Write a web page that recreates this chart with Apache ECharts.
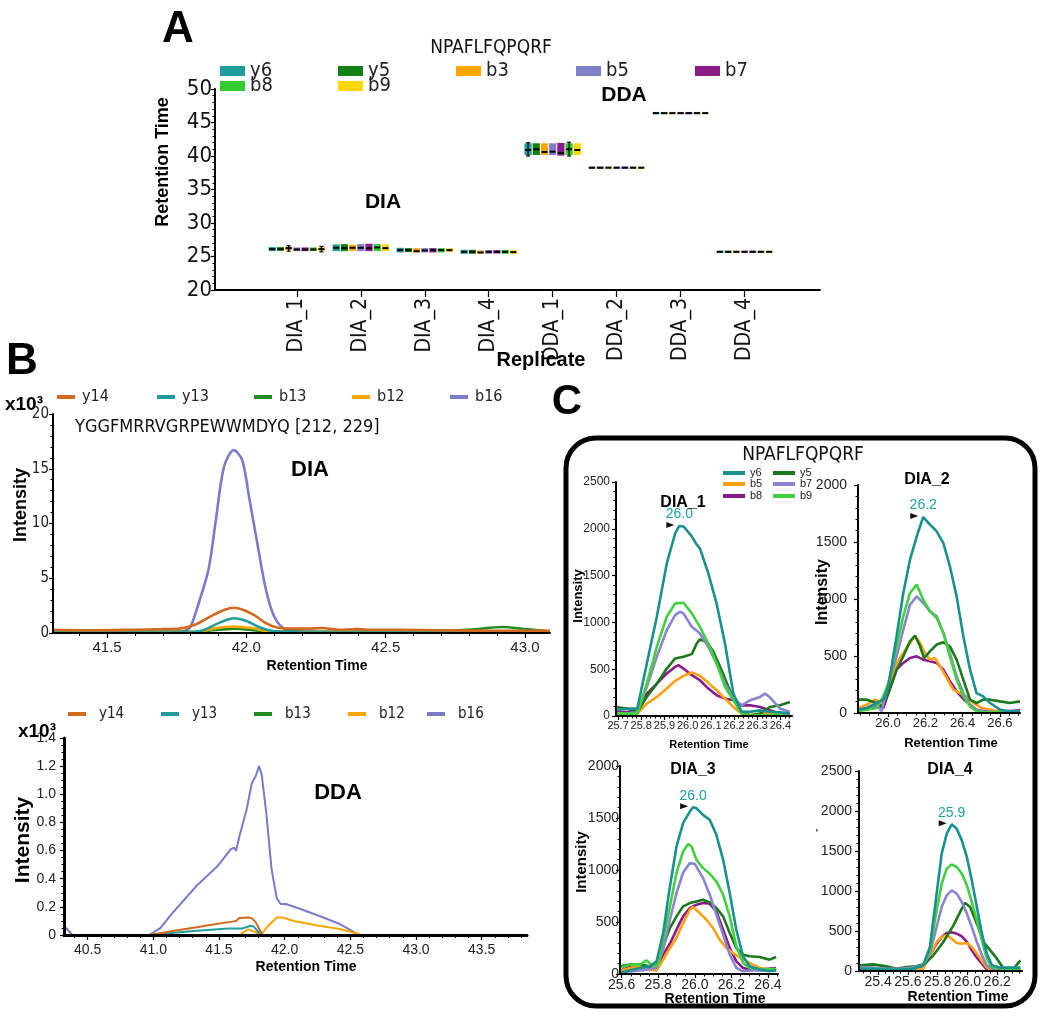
<!DOCTYPE html>
<html><head><meta charset="utf-8">
<script src="https://cdn.jsdelivr.net/npm/echarts@6/dist/echarts.min.js"></script>
<style>html,body{margin:0;padding:0;background:#fff}#c{width:1052px;height:1027px}</style>
</head><body><div id="c"></div>
<script>
// ================= DATA =================
// Panel A: retention time per replicate, per fragment  [low, q1, median, q3, high]
const replicates = ['DIA_1','DIA_2','DIA_3','DIA_4','DDA_1','DDA_2','DDA_3','DDA_4'];
const fragmentsA = ['y6','y5','b3','b5','b7','b8','b9'];
const rt_y6 = [[25.8,25.8,26.1,26.4,26.4],[25.8,25.8,26.3,26.8,26.8],[25.6,25.6,25.95,26.3,26.3],[25.4,25.4,25.7,26.0,26.0],[40.0,40.15,40.9,41.9,42.0],[38.25,38.25,38.25,38.25,38.25],[46.4,46.4,46.4,46.4,46.4],[25.7,25.7,25.7,25.7,25.7]];
const rt_y5 = [[25.85,25.85,26.1,26.4,26.4],[25.8,25.8,26.25,26.85,26.85],[25.65,25.65,25.95,26.25,26.25],[25.4,25.4,25.7,26.0,26.0],[40.15,40.15,41.0,41.9,41.9],[38.25,38.25,38.25,38.25,38.25],[46.4,46.4,46.4,46.4,46.4],[25.7,25.7,25.7,25.7,25.7]];
const rt_b3 = [[25.8,25.95,26.25,26.45,26.6],[25.8,25.85,26.3,26.75,26.75],[25.55,25.55,25.8,26.25,26.25],[25.45,25.45,25.6,25.9,25.9],[40.15,40.15,40.6,41.9,41.9],[38.25,38.25,38.25,38.25,38.25],[46.4,46.4,46.4,46.4,46.4],[25.7,25.7,25.7,25.7,25.7]];
const rt_b5 = [[25.75,25.8,26.05,26.35,26.35],[25.8,25.8,26.3,26.85,26.85],[25.6,25.6,25.9,26.25,26.25],[25.4,25.4,25.7,25.95,25.95],[40.15,40.15,40.65,41.9,41.9],[38.25,38.25,38.25,38.25,38.25],[46.4,46.4,46.4,46.4,46.4],[25.7,25.7,25.7,25.7,25.7]];
const rt_b7 = [[25.8,25.8,26.05,26.35,26.35],[25.8,25.8,26.25,26.9,26.9],[25.6,25.6,25.95,26.25,26.25],[25.4,25.45,25.7,25.95,25.95],[40.05,40.05,40.45,41.95,41.95],[38.25,38.25,38.25,38.25,38.25],[46.4,46.4,46.4,46.4,46.4],[25.7,25.7,25.7,25.7,25.7]];
const rt_b8 = [[25.8,25.8,26.05,26.35,26.35],[25.8,25.8,26.35,26.85,26.85],[25.6,25.6,25.95,26.25,26.25],[25.4,25.4,25.7,26.0,26.0],[40.0,40.15,41.0,41.9,42.05],[38.25,38.25,38.25,38.25,38.25],[46.4,46.4,46.4,46.4,46.4],[25.7,25.7,25.7,25.7,25.7]];
const rt_b9 = [[25.7,25.85,26.1,26.35,26.5],[25.8,25.8,26.25,26.8,26.8],[25.6,25.65,25.95,26.25,26.25],[25.4,25.4,25.65,25.95,25.95],[40.15,40.15,40.9,41.9,41.9],[38.25,38.25,38.25,38.25,38.25],[46.4,46.4,46.4,46.4,46.4],[25.7,25.7,25.7,25.7,25.7]];

// Panel B: intensity (x10^3) vs retention time
const fragmentsB = ['y14','y13','b13','b12','b16'];
const dia_b16 = [[41.31,0.1],[41.6,0.1],[41.75,0.1],[41.78,0.2],[41.80,0.6],[41.83,2.8],[41.865,5.9],[41.89,10.2],[41.92,15.2],[41.955,16.7],[41.985,15.8],[42.01,12.4],[42.04,8.1],[42.07,4.0],[42.10,1.5],[42.135,0.4],[42.18,0.15],[42.4,0.1],[42.6,0.15],[42.8,0.1],[43.09,0.1]];
const dia_y14 = [[41.31,0.3],[41.45,0.25],[41.6,0.3],[41.7,0.35],[41.76,0.4],[41.82,0.8],[41.87,1.5],[41.92,2.1],[41.955,2.3],[41.99,2.1],[42.03,1.6],[42.07,0.9],[42.11,0.5],[42.16,0.4],[42.22,0.4],[42.27,0.45],[42.33,0.3],[42.4,0.35],[42.45,0.3],[42.55,0.3],[42.7,0.25],[42.9,0.2],[43.09,0.2]];
const dia_y13 = [[41.31,0.05],[41.8,0.05],[41.85,0.3],[41.9,0.9],[41.955,1.35],[42.0,1.1],[42.05,0.5],[42.1,0.15],[42.2,0.05],[43.09,0.05]];
const dia_b12 = [[41.31,0.05],[41.82,0.05],[41.88,0.4],[41.95,0.6],[42.02,0.45],[42.08,0.15],[42.15,0.05],[43.09,0.05]];
const dia_b13 = [[41.31,0.1],[41.4,0.2],[41.48,0.25],[41.55,0.15],[41.8,0.1],[41.9,0.3],[41.96,0.4],[42.05,0.2],[42.2,0.1],[42.6,0.1],[42.8,0.3],[42.92,0.55],[43.0,0.35],[43.09,0.15]];
const dda_b16 = [[40.32,0.066],[40.385,0],[40.97,0],[41.055,0.05],[41.14,0.15],[41.33,0.35],[41.49,0.49],[41.59,0.61],[41.615,0.62],[41.63,0.6],[41.655,0.7],[41.71,0.89],[41.75,1.08],[41.78,1.13],[41.805,1.2],[41.825,1.14],[41.86,0.87],[41.90,0.47],[41.94,0.26],[41.97,0.22],[42.01,0.22],[42.12,0.185],[42.26,0.137],[42.42,0.078],[42.57,0]];
const dda_y14 = [[40.97,0],[41.16,0.03],[41.33,0.055],[41.49,0.08],[41.60,0.095],[41.63,0.1],[41.655,0.12],[41.72,0.125],[41.75,0.12],[41.78,0.09],[41.83,0]];
const dda_y13 = [[40.97,0],[41.33,0.03],[41.575,0.047],[41.68,0.047],[41.74,0.066],[41.765,0.06],[41.82,0]];
const dda_b12 = [[41.655,0],[41.72,0.04],[41.78,0.02],[41.82,0],[41.875,0.066],[41.94,0.125],[41.98,0.125],[42.07,0.1],[42.26,0.066],[42.42,0.043],[42.57,0.007]];
const dda_b13 = [];

// Panel C: intensity vs retention time, 4 DIA replicates
const fragmentsC = ['y6','y5','b5','b7','b8','b9'];
const c1_y6 = [[25.694,61],[25.737,79],[25.783,79],[25.824,560],[25.867,1060],[25.910,1630],[25.946,1950],[25.964,2030],[25.982,2025],[26.018,1920],[26.039,1830],[26.053,1790],[26.089,1525],[26.125,1200],[26.161,775],[26.197,240],[26.233,45],[26.269,45],[26.312,60],[26.355,45],[26.398,40],[26.441,25]];
const c1_b9 = [[25.694,25],[25.783,25],[25.824,346],[25.867,739],[25.910,1061],[25.946,1203],[25.982,1210],[26.018,1096],[26.053,953],[26.089,775],[26.125,561],[26.161,311],[26.197,168],[26.233,25],[26.269,7],[26.312,7],[26.355,10],[26.398,18],[26.441,25]];
const c1_b7 = [[25.694,7],[25.783,43],[25.824,311],[25.867,632],[25.910,918],[25.946,1078],[25.967,1114],[25.982,1096],[26.018,953],[26.053,882],[26.089,739],[26.125,561],[26.161,346],[26.197,186],[26.233,114],[26.269,168],[26.312,204],[26.333,239],[26.355,200],[26.398,79],[26.441,43]];
const c1_y5 = [[25.694,96],[25.737,79],[25.783,43],[25.824,204],[25.867,346],[25.910,507],[25.946,614],[25.982,632],[26.018,661],[26.039,775],[26.053,818],[26.082,793],[26.111,686],[26.140,525],[26.176,311],[26.204,150],[26.233,43],[26.269,7],[26.312,25],[26.355,96],[26.398,114],[26.441,150]];
const c1_b8 = [[25.694,43],[25.783,43],[25.824,239],[25.867,346],[25.910,454],[25.946,525],[25.960,543],[25.982,507],[26.018,436],[26.053,382],[26.089,293],[26.125,221],[26.161,186],[26.197,168],[26.233,114],[26.269,114],[26.312,96],[26.355,61],[26.398,25],[26.441,18]];
const c1_b5 = [[25.694,25],[25.783,25],[25.824,132],[25.867,204],[25.910,293],[25.946,375],[25.982,429],[26.018,464],[26.053,429],[26.089,354],[26.125,275],[26.161,186],[26.197,96],[26.233,25],[26.269,14],[26.312,25],[26.355,32],[26.398,25],[26.441,18]];

const c2_y6 = [[25.841,29],[25.886,44],[25.939,88],[25.975,117],[26.002,234],[26.046,673],[26.082,1053],[26.118,1345],[26.154,1550],[26.189,1719],[26.225,1652],[26.261,1594],[26.297,1491],[26.332,1287],[26.368,1023],[26.404,673],[26.440,380],[26.475,175],[26.511,146],[26.547,88],[26.601,29],[26.654,15],[26.708,15]];
const c2_b9 = [[25.841,15],[25.886,29],[25.939,44],[25.975,146],[26.002,263],[26.046,585],[26.082,848],[26.118,1053],[26.154,1126],[26.189,994],[26.225,892],[26.261,833],[26.297,702],[26.332,497],[26.368,292],[26.404,146],[26.440,58],[26.475,15],[26.511,6],[26.601,6],[26.708,6]];
const c2_b7 = [[25.841,29],[25.886,44],[25.939,73],[25.966,15],[26.002,263],[26.046,497],[26.082,731],[26.118,950],[26.154,1023],[26.189,965],[26.225,892],[26.261,848],[26.297,702],[26.332,526],[26.368,322],[26.404,175],[26.440,73],[26.475,29],[26.511,15],[26.601,6],[26.708,15]];
const c2_y5 = [[25.841,117],[25.886,117],[25.939,88],[25.966,58],[26.002,175],[26.046,380],[26.082,497],[26.118,629],[26.145,678],[26.172,585],[26.193,482],[26.225,541],[26.261,600],[26.297,620],[26.332,585],[26.368,468],[26.404,292],[26.440,117],[26.475,88],[26.511,117],[26.547,117],[26.601,102],[26.654,88],[26.708,102]];
const c2_b5 = [[25.841,44],[25.886,73],[25.930,117],[25.975,94],[26.002,205],[26.046,439],[26.082,526],[26.118,614],[26.145,678],[26.172,614],[26.198,526],[26.225,468],[26.252,482],[26.279,409],[26.315,307],[26.350,205],[26.386,175],[26.422,146],[26.458,88],[26.502,44],[26.565,23],[26.636,0],[26.708,0]];
const c2_b8 = [[25.841,29],[25.939,58],[25.975,44],[26.002,175],[26.046,380],[26.082,439],[26.118,482],[26.154,497],[26.189,468],[26.225,453],[26.261,439],[26.297,380],[26.332,278],[26.368,190],[26.404,123],[26.440,73],[26.475,29],[26.529,15],[26.636,15],[26.708,23]];

const c3_y6 = [[25.591,10],[25.645,35],[25.700,58],[25.755,74],[25.791,122],[25.827,394],[25.864,842],[25.900,1226],[25.936,1450],[25.973,1562],[25.991,1603],[26.009,1594],[26.045,1530],[26.082,1482],[26.118,1338],[26.155,1098],[26.191,778],[26.227,426],[26.264,170],[26.300,74],[26.355,42],[26.409,26],[26.445,35]];
const c3_b9 = [[25.591,58],[25.645,90],[25.700,90],[25.736,131],[25.773,74],[25.800,90],[25.827,330],[25.864,650],[25.900,970],[25.936,1178],[25.964,1251],[25.982,1226],[26.009,1098],[26.045,1018],[26.082,963],[26.118,890],[26.155,762],[26.191,554],[26.227,266],[26.264,106],[26.300,58],[26.355,48],[26.409,48],[26.445,48]];
const c3_b7 = [[25.591,10],[25.664,26],[25.736,42],[25.791,58],[25.827,234],[25.864,522],[25.900,778],[25.936,976],[25.973,1066],[26.000,1059],[26.045,922],[26.082,762],[26.118,570],[26.155,378],[26.191,186],[26.227,58],[26.264,26],[26.318,35],[26.391,35],[26.445,42]];
const c3_y5 = [[25.591,74],[25.645,90],[25.700,90],[25.755,74],[25.791,90],[25.827,266],[25.864,442],[25.900,554],[25.936,650],[25.973,682],[26.009,698],[26.045,714],[26.082,688],[26.118,634],[26.155,554],[26.191,394],[26.227,250],[26.264,186],[26.300,170],[26.355,163],[26.409,138],[26.445,163]];
const c3_b8 = [[25.591,26],[25.645,74],[25.700,74],[25.755,58],[25.791,35],[25.827,186],[25.864,291],[25.900,426],[25.936,554],[25.973,634],[26.009,666],[26.045,682],[26.082,675],[26.118,602],[26.155,426],[26.191,250],[26.227,122],[26.264,58],[26.300,42],[26.355,42],[26.445,58]];
const c3_b5 = [[25.591,26],[25.645,58],[25.700,74],[25.755,42],[25.791,35],[25.827,138],[25.864,250],[25.900,346],[25.936,490],[25.973,618],[25.991,643],[26.027,586],[26.064,522],[26.100,442],[26.136,330],[26.173,250],[26.209,202],[26.245,163],[26.282,122],[26.318,90],[26.355,58],[26.409,42],[26.445,35]];

const c4_y6 = [[25.276,29],[25.366,29],[25.456,17],[25.546,17],[25.636,29],[25.703,71],[25.748,300],[25.793,967],[25.827,1467],[25.861,1717],[25.894,1833],[25.928,1779],[25.962,1633],[25.996,1425],[26.029,1133],[26.063,800],[26.097,467],[26.130,217],[26.164,71],[26.220,42],[26.288,42],[26.355,42]];
const c4_b9 = [[25.276,29],[25.366,29],[25.456,17],[25.546,17],[25.636,29],[25.703,71],[25.748,258],[25.793,758],[25.827,1092],[25.861,1279],[25.894,1333],[25.928,1300],[25.962,1217],[25.996,1071],[26.029,863],[26.063,633],[26.097,383],[26.130,154],[26.164,50],[26.220,29],[26.288,29],[26.355,29]];
const c4_b7 = [[25.276,50],[25.366,42],[25.456,29],[25.546,29],[25.636,42],[25.703,71],[25.748,217],[25.793,550],[25.827,800],[25.861,946],[25.894,1008],[25.928,967],[25.962,863],[25.996,717],[26.029,550],[26.063,363],[26.097,196],[26.130,71],[26.164,29],[26.220,17],[26.288,17],[26.355,17]];
const c4_y5 = [[25.276,71],[25.366,83],[25.456,58],[25.524,29],[25.591,50],[25.658,58],[25.715,92],[25.771,196],[25.838,363],[25.906,571],[25.962,779],[25.984,850],[26.018,800],[26.063,592],[26.108,363],[26.153,258],[26.198,154],[26.243,29],[26.310,29],[26.355,133]];
const c4_b8 = [[25.276,29],[25.366,29],[25.456,29],[25.546,29],[25.636,42],[25.703,50],[25.748,196],[25.793,342],[25.827,425],[25.861,475],[25.894,483],[25.928,467],[25.962,433],[25.996,363],[26.029,258],[26.063,167],[26.097,92],[26.130,17],[26.164,0],[26.220,0],[26.288,8],[26.355,17]];
const c4_b5 = [[25.276,17],[25.366,17],[25.456,17],[25.546,8],[25.636,17],[25.703,29],[25.748,196],[25.793,363],[25.827,425],[25.861,446],[25.894,404],[25.928,350],[25.962,342],[25.996,350],[26.029,300],[26.063,217],[26.097,125],[26.130,42],[26.164,8],[26.220,8],[26.288,17],[26.355,17]];

const peptideA = 'NPAFLFQPQRF';
const peptideB = 'YGGFMRRVGRPEWWMDYQ [212, 229]';
const cTitles = ['DIA_1','DIA_2','DIA_3','DIA_4'];

// ================= STYLE / LAYOUT =================
const NARROW = "'Liberation Sans Narrow','DejaVu Sans Condensed',sans-serif";
const ARIAL = "'Liberation Sans',Arial,sans-serif";
const colA = {y6:'#1f9c9c', y5:'#138013', b3:'#ffa500', b5:'#8080c8', b7:'#8b1a8b', b8:'#33cc33', b9:'#ffd700'};
const colB = {y14:'#d2691e', y13:'#1f9c9c', b13:'#228b22', b12:'#ffa500', b16:'#7b7bc8'};
const colC = {y6:'#1a9090', y5:'#1a7a1a', b5:'#ffa010', b7:'#8a85cc', b8:'#8b1a8b', b9:'#40d040'};

const rtA = {y6:rt_y6, y5:rt_y5, b3:rt_b3, b5:rt_b5, b7:rt_b7, b8:rt_b8, b9:rt_b9};
const diaB = {y14:dia_y14, y13:dia_y13, b13:dia_b13, b12:dia_b12, b16:dia_b16};
const ddaB = {y14:dda_y14, y13:dda_y13, b13:dda_b13, b12:dda_b12, b16:dda_b16};
const cData = [
  {y6:c1_y6, y5:c1_y5, b5:c1_b5, b7:c1_b7, b8:c1_b8, b9:c1_b9},
  {y6:c2_y6, y5:c2_y5, b5:c2_b5, b7:c2_b7, b8:c2_b8, b9:c2_b9},
  {y6:c3_y6, y5:c3_y5, b5:c3_b5, b7:c3_b7, b8:c3_b8, b9:c3_b9},
  {y6:c4_y6, y5:c4_y5, b5:c4_b5, b7:c4_b7, b8:c4_b8, b9:c4_b9}
];

function ticks(a, b, step){ const r=[]; for(let i=0; a+i*step <= b+1e-9; i++) r.push(+(a+i*step).toFixed(4)); return r; }

const grids = [
  {left:215, top:89, width:605, height:201},   // A
  {left:53, top:414, width:497, height:219},   // B DIA
  {left:64, top:738, width:463, height:197},   // B DDA
  {left:616, top:482, width:176, height:234},  // C1
  {left:858, top:485, width:162, height:228},  // C2
  {left:620, top:766, width:158, height:208},  // C3
  {left:859, top:771, width:163, height:200}   // C4
];

const xAxes = [];
const yAxes = [];
function mainX(g, min, max, lab, fs, fam, lw, tickLen, fmt, extra){
  xAxes.push(Object.assign({type:'value', gridIndex:g, min, max, position:'bottom', z:5,
    axisLine:{show:true, onZero:false, lineStyle:{color:'#000', width:lw}},
    axisTick:{show:true, customValues:lab, length:tickLen, lineStyle:{color:'#000', width:1.2}},
    axisLabel:{show:true, customValues:lab, fontSize:fs, fontFamily:fam, color:'#222', margin:4, formatter:fmt},
    splitLine:{show:false}}, extra||{}));
  return xAxes.length-1;
}
function minorX(g, min, max, vals, len){
  xAxes.push({type:'value', gridIndex:g, min, max, position:'bottom', offset:0, z:5,
    axisLine:{show:false}, axisLabel:{show:false}, splitLine:{show:false},
    axisTick:{show:true, customValues:vals, length:len, lineStyle:{color:'#000', width:1}}});
}
const plain = v => String(v);
function mainY(g, min, max, interval, fs, fam, lw, margin, split, fmt){
  yAxes.push({type:'value', gridIndex:g, min, max, interval, z:5,
    axisLine:{show:true, onZero:false, lineStyle:{color:'#000', width:lw}},
    axisTick:{show:true, length:4, lineStyle:{color:'#000', width:1.2}},
    minorTick:{show:true, splitNumber:split, length:2.5, lineStyle:{color:'#000', width:1}},
    axisLabel:{fontSize:fs, fontFamily:fam, color:'#222', margin, formatter:fmt||plain},
    splitLine:{show:false}, minorSplitLine:{show:false}});
  return yAxes.length-1;
}

// A axes
const repPos = replicates.map((_, i) => i + 1);
const xA = mainX(0, -0.28, 9.18, repPos, 21, NARROW, 2, 7, v => replicates[Math.round(v)-1] || '',
  {axisLabel:{show:true, customValues:repPos, rotate:90, fontSize:21, fontFamily:NARROW, color:'#111', margin:8, formatter: v => replicates[Math.round(v)-1] || ''}});
const yA = mainY(0, 20, 50, 5, 22, NARROW, 2, 3, 5);
yAxes[yA].axisLabel.color = '#111';
yAxes[yA].axisLabel.padding = [0,0,10,0];
// B axes
const f1 = v => v.toFixed(1);
const xB1 = mainX(1, 41.306, 43.09, [41.5,42,42.5,43], 15, ARIAL, 2, 5, f1); xAxes[xB1].axisLabel.margin = 7;
minorX(1, 41.306, 43.09, ticks(41.4, 43.0, 0.1), 3);
const yB1 = mainY(1, 0, 20, 5, 15, NARROW, 2, 4, 5);
const xB2 = mainX(2, 40.32, 43.845, ticks(40.5, 43.5, 0.5), 14, ARIAL, 3, 5, f1); xAxes[xB2].axisLabel.margin = 8;
minorX(2, 40.32, 43.845, ticks(40.4, 43.8, 0.1), 3);
const yB2 = mainY(2, 0, 1.4, 0.2, 14, ARIAL, 3, 8, 4, v => v === 0 ? '0' : v.toFixed(1));
// C axes
const xC = [], yC = [];
xC.push(mainX(3, 25.691, 26.45, ticks(25.7, 26.4, 0.1), 11, ARIAL, 2, 4, f1)); minorX(3, 25.691, 26.45, ticks(25.7, 26.44, 0.02), 2.5);
xC.push(mainX(4, 25.839, 26.708, ticks(26.0, 26.6, 0.2), 13, ARIAL, 2, 4, f1)); minorX(4, 25.839, 26.708, ticks(25.85, 26.7, 0.05), 2.5);
xC.push(mainX(5, 25.591, 26.455, ticks(25.6, 26.4, 0.2), 14, ARIAL, 2, 4, f1)); minorX(5, 25.591, 26.455, ticks(25.6, 26.45, 0.05), 2.5);
xC.push(mainX(6, 25.272, 26.366, ticks(25.4, 26.2, 0.2), 14, ARIAL, 2, 4, f1)); minorX(6, 25.272, 26.366, ticks(25.3, 26.35, 0.05), 2.5);
yC.push(mainY(3, 0, 2500, 500, 12, ARIAL, 2, 6, 5));
yC.push(mainY(4, 0, 2000, 500, 14, ARIAL, 2, 11, 5));
yC.push(mainY(5, 0, 2000, 500, 14, ARIAL, 2, 1, 5));
yC.push(mainY(6, 0, 2500, 500, 14, ARIAL, 2, 7, 5));

// ================= SERIES =================
const series = [];
// Panel A boxes (custom series through axis coords)
fragmentsA.forEach((name, fi) => {
  series.push({
    type:'custom', name, xAxisIndex:xA, yAxisIndex:yA, clip:false, z:3,
    itemStyle:{color:colA[name]},
    encode:{x:0, y:[1,2,3,4,5]},
    data: rtA[name].map((b, ri) => [repPos[ri], b[0], b[1], b[2], b[3], b[4]]),
    renderItem(params, api){
      const x = api.value(0);
      const py = v => api.coord([x, v])[1];
      const cx = api.coord([x, api.value(3)])[0] + (fi - 3) * 8.2;
      const yl = py(api.value(1)), yq1 = py(api.value(2)), ym = py(api.value(3)), yq3 = py(api.value(4)), yh = py(api.value(5));
      const w = 7.2, col = api.visual('color');
      const ch = [];
      if (yq1 - yq3 > 0.8) ch.push({type:'rect', shape:{x:cx-w/2, y:yq3, width:w, height:yq1-yq3}, style:{fill:col}});
      else ch.push({type:'rect', shape:{x:cx-w/2, y:ym-1.2, width:w, height:2.4}, style:{fill:col, opacity:0.7}});
      if (yl - yh > yq1 - yq3 + 0.5) {
        ch.push({type:'line', shape:{x1:cx, y1:yl, x2:cx, y2:yh}, style:{stroke:'#000', lineWidth:1.2}});
        ch.push({type:'line', shape:{x1:cx-2, y1:yl, x2:cx+2, y2:yl}, style:{stroke:'#000', lineWidth:1.2}});
        ch.push({type:'line', shape:{x1:cx-2, y1:yh, x2:cx+2, y2:yh}, style:{stroke:'#000', lineWidth:1.2}});
      }
      ch.push({type:'line', shape:{x1:cx-w/2+0.6, y1:ym, x2:cx+w/2-0.6, y2:ym}, style:{stroke:'#000', lineWidth:2}});
      return {type:'group', children:ch};
    }
  });
});
// Panel B lines
['b16','b13','b12','y13','y14'].forEach(name => {
  series.push({type:'line', name, xAxisIndex:xB1, yAxisIndex:yB1, data:diaB[name], symbol:'none', smooth:0.3,
    lineStyle:{width:2.6, color:colB[name]}, itemStyle:{color:colB[name]}});
  series.push({type:'line', name, xAxisIndex:xB2, yAxisIndex:yB2, data:ddaB[name], symbol:'none',
    lineStyle:{width:2, color:colB[name]}, itemStyle:{color:colB[name]}});
});
// Panel C lines
cData.forEach((panel, pi) => {
  ['b8','b5','y5','b7','b9','y6'].forEach(name => {
    const s = {type:'line', name, xAxisIndex:xC[pi], yAxisIndex:yC[pi], data:panel[name], symbol:'none',
      lineStyle:{width:2.6, color:colC[name]}, itemStyle:{color:colC[name]}};
    if (name === 'y6') {
      let pk = panel[name][0];
      panel[name].forEach(p => { if (p[1] > pk[1]) pk = p; });
      s.markPoint = {silent:true, animation:false, data:[
        {coord:pk, symbol:'triangle', symbolRotate:-90, symbolSize:[6,8], symbolOffset:[-9,-1], itemStyle:{color:'#111'}, label:{show:false}},
        {coord:pk, symbol:'circle', symbolSize:1, itemStyle:{color:'rgba(0,0,0,0)'},
         label:{show:true, position:'top', distance:4, formatter: pk[0].toFixed(1), color:'#20a0a0', fontSize:14, fontFamily:ARIAL}}
      ]};
    }
    series.push(s);
  });
});

// ================= LEGENDS =================
const legends = [];
function leg(name, color, left, cy, iw, ih, fs, fam, padL){
  const lh = fs + 2;
  legends.push({left, top: cy - lh/2, padding:0, itemWidth:iw, itemHeight:ih, itemGap:0, selectedMode:false,
    data:[{name, icon:'rect', itemStyle:{color, borderWidth:0}}],
    textStyle:{fontSize:fs, fontFamily:fam, color:'#222', lineHeight:lh, padding:[0,0,0,padL||0]}});
}
const legAPos = [[220,71],[338,71],[456,71],[576,71],[695,71],[220,86],[338,86]];
fragmentsA.forEach((n, i) => leg(n, colA[n], legAPos[i][0], legAPos[i][1], 25, 10, 20, NARROW, 0));
const legB1X = [57,157,254,352,450];
fragmentsB.forEach((n, i) => leg(n, colB[n], legB1X[i], 397, 18, 4, 16, NARROW, 2));
const legB2X = [68,161,254,348,427];
fragmentsB.forEach((n, i) => leg(n, colB[n], legB2X[i], 714, 18, 4, 15, NARROW, 8));
const legCPos = [[723,473],[773,473],[723,484],[773,484],[723,496],[773,496]];
fragmentsC.forEach((n, i) => leg(n, colC[n], legCPos[i][0], legCPos[i][1], 22, 4, 11, ARIAL, 0));

// ================= TEXT =================
function txt(text, x, y, size, o){
  o = o || {};
  return {type:'text', x, y, rotation:o.rot||0, z:100,
    style:{text, font:(o.bold?'bold ':'') + size + 'px ' + (o.fam||ARIAL), fill:o.color||'#000', align:o.align||'center', verticalAlign:'middle'}};
}
const R = Math.PI/2;
const graphics = [
  {type:'rect', shape:{x:566, y:438, width:469, height:568, r:30}, style:{fill:'none', stroke:'#000', lineWidth:5}, z:50},
  txt('A', 178, 30, 44, {bold:true}),
  txt('B', 22, 362, 44, {bold:true}),
  txt('C', 567, 402, 42, {bold:true}),
  txt(peptideA, 491, 48, 19, {fam:NARROW, color:'#111'}),
  txt('DIA', 383, 202, 21, {bold:true}),
  txt('DDA', 624, 95, 21, {bold:true}),
  txt('Retention Time', 163, 162, 18, {bold:true, rot:R}),
  txt('Replicate', 541, 360, 20, {bold:true}),
  txt('x10³', 24, 405, 19, {bold:true}),
  txt(peptideB, 75, 427, 18, {fam:NARROW, align:'left', color:'#111'}),
  txt('DIA', 310, 470, 22, {bold:true}),
  txt('Intensity', 21, 505, 18, {bold:true, rot:R}),
  txt('Retention Time', 317, 666, 14, {bold:true}),
  txt('x10³', 37, 732, 19, {bold:true}),
  txt('DDA', 338, 793, 22, {bold:true}),
  txt('Intensity', 23, 840, 21, {bold:true, rot:R}),
  txt('Retention Time', 306, 967, 14, {bold:true}),
  txt(peptideA, 803, 455, 19, {fam:NARROW, color:'#111'}),
  txt(cTitles[0], 683, 503, 16, {bold:true}),
  txt(cTitles[1], 927, 480, 16, {bold:true}),
  txt(cTitles[2], 693, 770, 16, {bold:true}),
  txt(cTitles[3], 950, 770, 16, {bold:true}),
  txt('Intensity', 578, 596, 13, {bold:true, rot:R}),
  txt('Intensity', 823, 592, 16, {bold:true, rot:R}),
  txt('Intensity', 582, 862, 15, {bold:true, rot:R}),
  txt("'", 817, 835, 12, {}),
  txt('Retention Time', 709, 745, 11, {bold:true}),
  txt('Retention Time', 951, 743, 13, {bold:true}),
  txt('Retention Time', 715, 999, 14, {bold:true}),
  txt('Retention Time', 958, 997, 14, {bold:true})
];

const chart = echarts.init(document.getElementById('c'), null, {width:1052, height:1027});
chart.setOption({
  animation:false,
  backgroundColor:'#fff',
  grid:grids, xAxis:xAxes, yAxis:yAxes, series, legend:legends, graphic:graphics
});
</script></body></html>
